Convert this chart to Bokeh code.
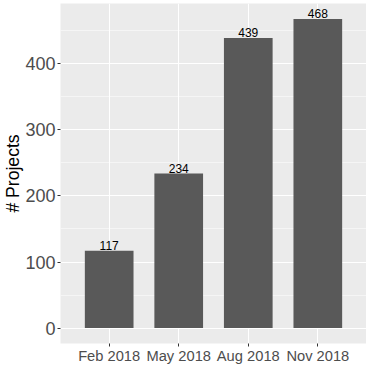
from bokeh.plotting import figure
from bokeh.models import Range1d, FactorRange, SingleIntervalTicker, ColumnDataSource, Title
from bokeh.core.properties import value
from bokeh.embed import file_html
from bokeh.resources import INLINE

quarters = ["Feb 2018", "May 2018", "Aug 2018", "Nov 2018"]
projects = [117, 234, 439, 468]
y_title = "# Projects"

FONT = "Liberation Sans"

src = ColumnDataSource(dict(q=quarters, n=projects, lab=[str(v) for v in projects]))

ymax = max(projects)
p = figure(
    width=366, height=366,
    x_range=FactorRange(factors=quarters, range_padding=0.2, range_padding_units="absolute"),
    y_range=Range1d(-0.05 * ymax, 1.05 * ymax),
    output_backend="svg", toolbar_location=None,
    min_border=0,
    min_border_left=52, min_border_right=0, min_border_top=3, min_border_bottom=20,
)
p.background_fill_color = "#EBEBEB"
p.border_fill_color = "white"
p.outline_line_color = None

p.vbar(x="q", top="n", bottom=0, width=0.7, source=src, fill_color="#595959", line_color=None)
p.text(x="q", y="n", text="lab", source=src, text_align="center", text_baseline="bottom",
       y_offset=-1, text_font=value(FONT), text_font_size="12px", text_color="black")

p.yaxis.ticker = SingleIntervalTicker(interval=100, num_minor_ticks=2)

for ax in (p.xaxis, p.yaxis):
    ax.axis_line_color = None
    ax.major_tick_line_color = "#333333"
    ax.major_tick_line_width = 1
    ax.major_tick_out = 3
    ax.major_tick_in = 0
    ax.minor_tick_line_color = None
    ax.major_label_text_color = "#4D4D4D"
    ax.major_label_text_font = FONT
    ax.major_label_standoff = 2

p.xaxis.major_label_standoff = 1
p.yaxis.major_label_standoff = 1
p.yaxis.major_label_text_font_size = "18px"
p.xaxis.major_label_text_font_size = "14.7px"

ytitle = Title(text=y_title, align="center", text_font=FONT, text_font_size="17.6px",
               text_font_style="normal", text_color="black", standoff=0, offset=0,
               text_line_height=0.9)
p.add_layout(ytitle, "left")

p.xgrid.grid_line_color = "white"
p.xgrid.grid_line_width = 1.1
p.ygrid.grid_line_color = "white"
p.ygrid.grid_line_width = 1.1
p.ygrid.minor_grid_line_color = "white"
p.ygrid.minor_grid_line_width = 0.5

open("out.html", "w").write(file_html(p, INLINE))
